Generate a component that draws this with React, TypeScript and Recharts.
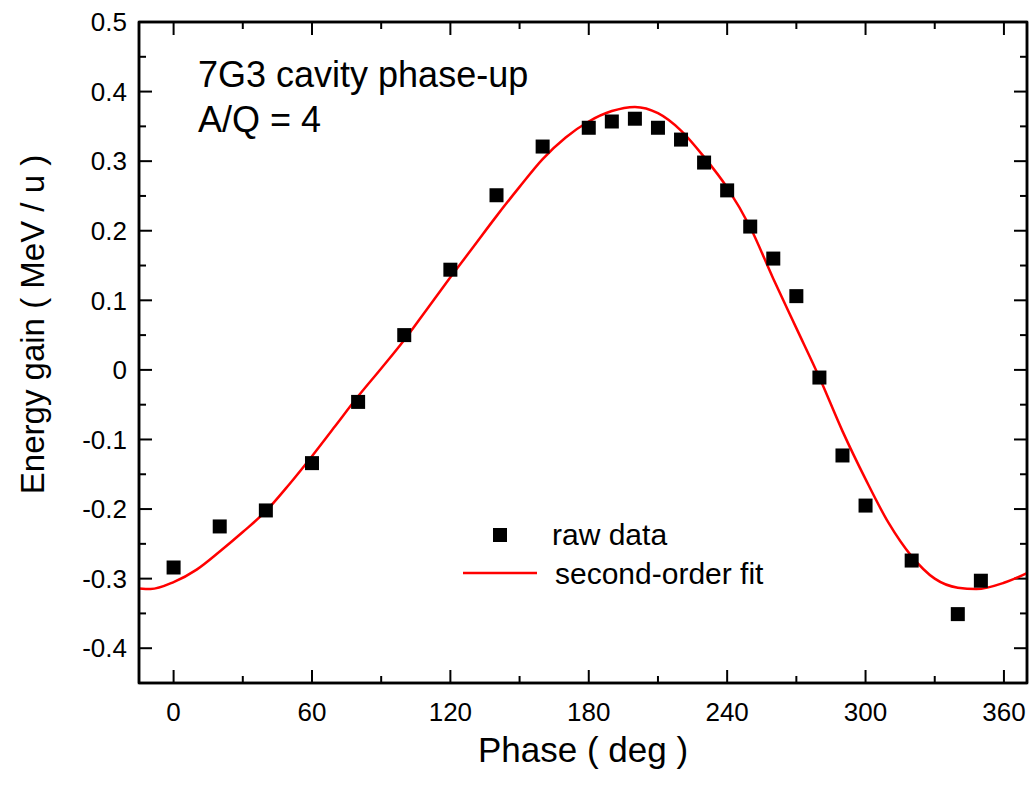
import React from 'react';
import { ComposedChart, Scatter, Line, XAxis, YAxis, Legend, ReferenceLine, ReferenceArea } from 'recharts';

// ---- data ----
const phaseDeg = [0, 20, 40, 60, 80, 100, 120, 140, 160, 180, 190, 200, 210, 220, 230, 240, 250, 260, 270, 280, 290, 300, 320, 340, 350];
const energyGain = [-0.284, -0.225, -0.202, -0.134, -0.046, 0.05, 0.144, 0.251, 0.321, 0.348, 0.357, 0.361, 0.348, 0.331, 0.298, 0.258, 0.206, 0.16, 0.106, -0.011, -0.123, -0.195, -0.274, -0.351, -0.303];

const fitPhase = [-15, -10, 0, 10, 20, 30, 40, 50, 60, 70, 80, 90, 100, 110, 120, 130, 140, 150, 160, 170, 180, 190, 200, 210, 220, 230, 240, 250, 260, 270, 280, 290, 300, 310, 320, 330, 340, 348, 360, 370];
const fitGain = [-0.314, -0.315, -0.305, -0.287, -0.261, -0.233, -0.203, -0.165, -0.124, -0.081, -0.038, 0.002, 0.043, 0.088, 0.133, 0.177, 0.221, 0.263, 0.303, 0.334, 0.357, 0.372, 0.378, 0.369, 0.344, 0.306, 0.262, 0.205, 0.131, 0.06, -0.011, -0.088, -0.157, -0.22, -0.268, -0.3, -0.313, -0.315, -0.306, -0.292];

const xMajorTicks = [0, 60, 120, 180, 240, 300, 360];
const xMinorTicks = [30, 90, 150, 210, 270, 330];
const yMajorTicks = [-0.4, -0.3, -0.2, -0.1, 0, 0.1, 0.2, 0.3, 0.4, 0.5];
const yMinorTicks = [-0.35, -0.25, -0.15, -0.05, 0.05, 0.15, 0.25, 0.35, 0.45];

const xDomain = [-15, 370];
const yDomain = [-0.45, 0.5];

const seriesNames = ['raw data', 'second-order fit'];
const annotationLines = ['7G3 cavity phase-up', 'A/Q = 4'];
const xTitle = 'Phase ( deg )';
const yTitle = 'Energy gain ( MeV / u )';

// ---- styling ----
const FONT = '"Liberation Sans", Arial, Helvetica, sans-serif';
const MAJOR = 13;
const MINOR = 7;
const TICK_FONT = 26;
const FRAME = { stroke: '#000', strokeWidth: 2.5 };

// Vertical reference line -> inward tick marks at bottom and top edges
const XTickPair = (props: any) => {
  const { x1, y1, y2, len } = props;
  if (x1 == null || y1 == null || y2 == null) return null;
  const top = Math.min(y1, y2);
  const bottom = Math.max(y1, y2);
  return (
    <g>
      <line x1={x1} x2={x1} y1={bottom} y2={bottom - len} stroke="#000" strokeWidth={2} />
      <line x1={x1} x2={x1} y1={top} y2={top + len} stroke="#000" strokeWidth={2} />
    </g>
  );
};

// Horizontal reference line -> inward tick marks at left and right edges
const YTickPair = (props: any) => {
  const { x1, x2, y1, len } = props;
  if (x1 == null || x2 == null || y1 == null) return null;
  const left = Math.min(x1, x2);
  const right = Math.max(x1, x2);
  return (
    <g>
      <line x1={left} x2={left + len} y1={y1} y2={y1} stroke="#000" strokeWidth={2} />
      <line x1={right} x2={right - len} y1={y1} y2={y1} stroke="#000" strokeWidth={2} />
    </g>
  );
};

const XTitle = (props: any) => {
  const vb = props.viewBox || { x: 139, y: 683, width: 888, height: 104 };
  return (
    <text x={vb.x + vb.width / 2} y={vb.y + 79} textAnchor="middle" fontSize={35} fontFamily={FONT} fill="#000">
      {xTitle}
    </text>
  );
};

const YTitle = (props: any) => {
  const vb = props.viewBox || { x: 0, y: 22, width: 139, height: 661 };
  const cx = vb.x + 44;
  const cy = vb.y + vb.height / 2 - 28;
  return (
    <text x={cx} y={cy} transform={`rotate(-90 ${cx} ${cy})`} textAnchor="middle" fontSize={33} fontFamily={FONT} fill="#000">
      {yTitle}
    </text>
  );
};

const SquareDot = (props: any) => {
  const { cx, cy } = props;
  if (cx == null || cy == null) return null;
  return <rect x={cx - 7} y={cy - 7} width={14} height={14} fill="#000" />;
};

const LegendContent = () => (
  <svg width={340} height={80} style={{ display: 'block' }}>
    <rect x={38} y={16} width={14} height={14} fill="#000" />
    <text x={97} y={33} fontSize={30} fontFamily={FONT} fill="#000">{seriesNames[0]}</text>
    <line x1={8} x2={82} y1={61} y2={61} stroke="#ff0000" strokeWidth={2.5} />
    <text x={100} y={72} fontSize={30} fontFamily={FONT} fill="#000">{seriesNames[1]}</text>
  </svg>
);

export default function App() {
  const scatterData = phaseDeg.map((x, i) => ({ x, y: energyGain[i] }));
  const fitData = fitPhase.map((x, i) => ({ x, y: fitGain[i] }));
  const tickStyle = { fontSize: TICK_FONT, fill: '#000', fontFamily: FONT };

  const xMarks = [
    ...xMajorTicks.map((v) => ({ v, len: MAJOR })),
    ...xMinorTicks.map((v) => ({ v, len: MINOR })),
  ];
  const yMarks = [
    ...yMajorTicks.map((v) => ({ v, len: MAJOR })),
    ...yMinorTicks.map((v) => ({ v, len: MINOR })),
  ];

  return (
    <div style={{ position: 'absolute', left: 0, top: 0, width: 1030, height: 787, background: '#fff' }}>
      <ComposedChart width={1030} height={787} margin={{ top: 21, right: 2, bottom: 0, left: 0 }} style={{ fontFamily: FONT }}>
        <XAxis
          xAxisId="x"
          type="number"
          dataKey="x"
          domain={xDomain}
          ticks={xMajorTicks}
          interval={0}
          allowDataOverflow
          tickSize={6}
          tickMargin={14}
          tickLine={false}
          axisLine={FRAME}
          height={104}
          tick={tickStyle}
          label={<XTitle />}
        />
        <XAxis
          xAxisId="xTop"
          orientation="top"
          type="number"
          dataKey="x"
          domain={xDomain}
          ticks={xMajorTicks}
          allowDataOverflow
          tickLine={false}
          tick={false}
          axisLine={FRAME}
          height={1}
        />
        <YAxis
          yAxisId="y"
          type="number"
          domain={yDomain}
          ticks={yMajorTicks}
          interval={0}
          allowDataOverflow
          tickSize={6}
          tickMargin={6}
          tickLine={false}
          axisLine={FRAME}
          width={139}
          tick={tickStyle}
          tickFormatter={(v: number) => String(v)}
          label={<YTitle />}
        />
        <YAxis
          yAxisId="yRight"
          orientation="right"
          type="number"
          domain={yDomain}
          ticks={yMajorTicks}
          allowDataOverflow
          tickLine={false}
          tick={false}
          axisLine={FRAME}
          width={1}
        />
        <ReferenceArea
          xAxisId="x"
          yAxisId="y"
          x1={xDomain[0]}
          x2={xDomain[1]}
          y1={yDomain[0]}
          y2={yDomain[1]}
          fill="none"
          stroke="#000"
          strokeWidth={2.5}
          ifOverflow="visible"
        />
        {xMarks.map((m) => (
          <ReferenceLine
            key={`xm${m.v}`}
            xAxisId="x"
            yAxisId="y"
            x={m.v}
            shape={(p: any) => <XTickPair {...p} len={m.len} />}
          />
        ))}
        {yMarks.map((m) => (
          <ReferenceLine
            key={`ym${m.v}`}
            xAxisId="x"
            yAxisId="y"
            y={m.v}
            shape={(p: any) => <YTickPair {...p} len={m.len} />}
          />
        ))}
        <Legend
          layout="horizontal"
          verticalAlign="middle"
          align="center"
          content={<LegendContent />}
          wrapperStyle={{ position: 'absolute', left: 455, top: 512, width: 340, height: 80 }}
        />
        <Scatter
          name={seriesNames[0]}
          data={scatterData}
          dataKey="y"
          xAxisId="x"
          yAxisId="y"
          shape={<SquareDot />}
          isAnimationActive={false}
        />
        <Line
          name={seriesNames[1]}
          data={fitData}
          dataKey="y"
          xAxisId="x"
          yAxisId="y"
          type="monotone"
          stroke="#ff0000"
          strokeWidth={2.5}
          dot={false}
          activeDot={false}
          isAnimationActive={false}
        />
      </ComposedChart>
      <svg width={1030} height={787} style={{ position: 'absolute', left: 0, top: 0, pointerEvents: 'none' }}>
        {annotationLines.map((t, i) => (
          <text key={t} x={198} y={87 + i * 45} fontSize={36} fontFamily={FONT} fill="#000">
            {t}
          </text>
        ))}
      </svg>
    </div>
  );
}
